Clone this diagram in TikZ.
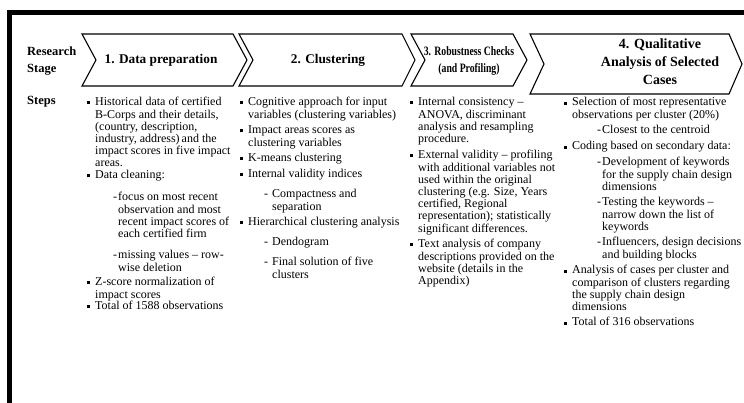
\documentclass[tikz,border=0pt]{standalone}
\usepackage{fontspec}
\setmainfont{Liberation Serif}
\tikzset{
  frameline/.style={line width=4.8pt, line join=miter},
  chev/.style={draw, line width=1.1pt, line join=miter},
  ttl/.style={font=\fontsize{13.3}{17.5}\selectfont\bfseries, align=center, inner sep=0},
  ttlsmall/.style={font=\fontsize{12.8}{17}\selectfont\bfseries, align=center, inner sep=0},
  ttlbig/.style={font=\fontsize{14}{18}\selectfont\bfseries, align=center, inner sep=0},
  lbl/.style={font=\fontsize{12.5}{17}\selectfont\bfseries, align=left, inner sep=0},
  body/.style={font=\fontsize{12}{12.2}\selectfont, align=left, inner sep=0, anchor=north west, yshift=5.8pt},
}
\newcommand{\bul}{\llap{\raisebox{1.6pt}{\rule{3pt}{3pt}}\hspace{5pt}}\strut}
\newcommand{\bulb}{\llap{\raisebox{0.6pt}{\rule{3pt}{3pt}}\hspace{5pt}}\strut}
\newcommand{\dsh}{\llap{-\hspace{1pt}}\strut}
\newcommand{\dshs}{\llap{-\hspace{4pt}}\strut}
\newcommand{\cond}[1]{\scalebox{0.76}[1]{#1}}
\begin{document}
\begin{tikzpicture}[x=1pt,y=-1pt]
\useasboundingbox (0,0) rectangle (744,403);
\fill[white] (0,0) rectangle (744,403);
% frame
\draw[frameline] (9.5,403) -- (9.5,12.5) -- (746,12.5);
% chevrons
\draw[chev] (82,34) -- (233,34) -- (247,60) -- (233,86) -- (82,86) -- (96,60) -- cycle;
\draw[chev] (239,34) -- (402,34) -- (415,60) -- (402,86) -- (239,86) -- (253,60) -- cycle;
\draw[chev] (411,34) -- (513,34) -- (527,60) -- (513,86) -- (411,86) -- (425,60) -- cycle;
\draw[chev] (530,34) -- (729,34) -- (742,64) -- (729,94) -- (530,94) -- (544,64) -- cycle;
% titles
\node[ttl] (t1) at (161,60) {1. Data preparation};
\node[ttl] (t2) at (328,60) {2. Clustering};
\node[ttlsmall] (t3) at (469,61) {\cond{3. Robustness Checks}\\\cond{(and Profiling)}};
\node[ttlbig] (t4) at (660,62) {4. Qualitative\\Analysis of Selected\\Cases};
% row labels
\node[lbl, anchor=north west] (rs) at (27,43.1) {\strut Research\\Stage};
\node[lbl, anchor=base west] (st) at (27,105) {Steps};
% column 1
\node[body] (a1) at (95,103) {\bul Historical data of certified\\B-Corps and their details,\\(country, description,\\industry, address)\,and the\\impact scores in five impact\\areas.};
\node[body] (a2) at (95,176) {\bul Data cleaning:};
\node[body] (a3) at (118,198) {\dsh focus on most recent\\observation and most\\recent impact scores of\\each certified firm};
\node[body] (a4) at (118,256) {\dsh missing values -- row-\\wise deletion};
\node[body] (a5) at (95,283) {\bul Z-score normalization of\\impact scores};
\node[body] (a6) at (95,307) {\bul Total of 1588 observations};
% column 2
\node[body] (b1) at (248,103) {\bul Cognitive approach for input\\variables (clustering variables)};
\node[body] (b2) at (248,131) {\bul Impact areas scores as\\clustering variables};
\node[body] (b3) at (248,159) {\bul K-means clustering};
\node[body] (b4) at (248,175) {\bul Internal validity indices};
\node[body] (b5) at (272,195) {\dshs Compactness and\\separation};
\node[body] (b6) at (248,223) {\bul Hierarchical clustering analysis};
\node[body] (b7) at (272,243) {\dshs Dendogram};
\node[body] (b8) at (272,263) {\dshs Final solution of five\\clusters};
% column 3
\node[body] (c1) at (418,103) {\bul Internal consistency --\\ANOVA, discriminant\\analysis and resampling\\procedure.};
\node[body] (c2) at (418,156) {\bul External validity -- profiling\\with additional variables not\\used within the original\\clustering (e.g. Size, Years\\certified, Regional\\representation); statistically\\significant differences.};
\node[body] (c3) at (418,245) {\bul Text analysis of company\\descriptions provided on the\\website (details in the\\Appendix)};
% column 4
\node[body] (d1) at (572,103) {\bulb Selection of most representative\\observations per cluster (20\%)};
\node[body] (d2) at (602,131) {\dsh Closest to the centroid};
\node[body] (d3) at (572,147) {\bulb Coding based on secondary data:};
\node[body] (d4) at (602,163) {\dsh Development of keywords\\for the supply chain design\\dimensions};
\node[body] (d5) at (602,203) {\dsh Testing the keywords --\\narrow down the list of\\keywords};
\node[body] (d6) at (602,243) {\dsh Influencers, design decisions\\and building blocks};
\node[body] (d7) at (572,271) {\bulb Analysis of cases per cluster and\\comparison of clusters regarding\\the supply chain design\\dimensions};
\node[body] (d8) at (572,323) {\bulb Total of 316 observations};
\end{tikzpicture}
\end{document}
